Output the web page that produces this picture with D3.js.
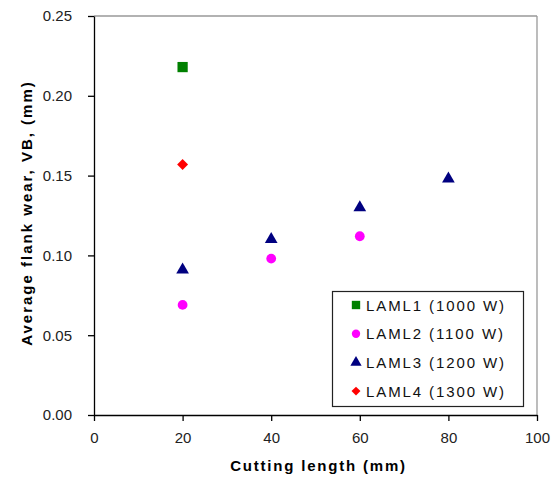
<!DOCTYPE html>
<html><head><meta charset="utf-8">
<script src="https://cdn.jsdelivr.net/npm/d3@7"></script>
<style>body{margin:0;background:#fff}svg{display:block}text{font-family:"Liberation Sans",Arial,sans-serif}</style>
</head><body>
<script>
const seriesNames = ["LAML1 (1000 W)", "LAML2 (1100 W)", "LAML3 (1200 W)", "LAML4 (1300 W)"];
const seriesColors = ["#008000", "#ff00ff", "#000080", "#ff0000"];
const seriesSymbols = ["square", "circle", "triangle", "diamond"];
const laml1 = [[20, 0.218]];
const laml2 = [[20, 0.069], [40, 0.098], [60, 0.112]];
const laml3 = [[20, 0.091], [40, 0.110], [60, 0.130], [80, 0.148]];
const laml4 = [[20, 0.157]];
const xTicks = [0, 20, 40, 60, 80, 100];
const yTicks = [0, 0.05, 0.10, 0.15, 0.20, 0.25];
const seriesData = [laml1, laml2, laml3, laml4];

const W = 557, H = 481;
const m = {l: 94, r: 20, t: 16, b: 66};
const svg = d3.select("body").append("svg").attr("width", W).attr("height", H);
const x = d3.scaleLinear().domain([0, 100]).range([m.l, W - m.r]);
const y = d3.scaleLinear().domain([0, 0.25]).range([H - m.b, m.t]);

svg.append("line").attr("x1", x(0)).attr("x2", x(100)).attr("y1", y(0.25)).attr("y2", y(0.25)).attr("stroke", "#999").attr("stroke-width", 1.3);
svg.append("line").attr("x1", x(100)).attr("x2", x(100)).attr("y1", y(0.25)).attr("y2", y(0)).attr("stroke", "#999").attr("stroke-width", 1.3);

const xAxis = svg.append("g").attr("transform", `translate(0,${y(0)})`)
  .call(d3.axisBottom(x).tickValues(xTicks).tickSize(6).tickSizeOuter(0).tickPadding(11).tickFormat(d3.format("d")));
const yAxis = svg.append("g").attr("transform", `translate(${x(0)},0)`)
  .call(d3.axisLeft(y).tickValues(yTicks).tickSize(6).tickSizeOuter(0).tickPadding(16).tickFormat(d3.format(".2f")));
[xAxis, yAxis].forEach(g => {
  g.select(".domain").attr("stroke", "#000").attr("stroke-width", 1.3);
  g.selectAll(".tick line").attr("stroke", "#000").attr("stroke-width", 1.3);
  g.selectAll(".tick text").attr("fill", "#222").style("font-size", "15px").style("font-family", '"Liberation Sans",Arial,sans-serif');
});

const symMap = {square: d3.symbolSquare, circle: d3.symbolCircle, triangle: d3.symbolTriangle, diamond: d3.symbolSquare};
const symRot = {square: 0, circle: 0, triangle: 0, diamond: 45};
const symSize = {square: 105, circle: 75, triangle: 70, diamond: 60};
const legSize = {square: 70, circle: 55, triangle: 55, diamond: 40};

seriesData.forEach((data, i) => {
  const s = seriesSymbols[i];
  svg.append("g").selectAll("path").data(data).join("path")
    .attr("transform", d => `translate(${x(d[0])},${y(d[1])}) rotate(${symRot[s]})`)
    .attr("d", d3.symbol().type(symMap[s]).size(symSize[s]))
    .attr("fill", seriesColors[i]);
});

const lg = svg.append("g");
lg.append("rect").attr("x", 332.5).attr("y", 291.5).attr("width", 191).attr("height", 115)
  .attr("fill", "#fff").attr("stroke", "#222").attr("stroke-width", 1.2);
seriesNames.forEach((n, i) => {
  const cy = 305 + i * 28.7;
  const s = seriesSymbols[i];
  lg.append("path").attr("transform", `translate(356,${cy}) rotate(${symRot[s]})`)
    .attr("d", d3.symbol().type(symMap[s]).size(legSize[s])).attr("fill", seriesColors[i]);
  lg.append("text").attr("x", 366).attr("y", cy + 5.5).text(n)
    .style("font-size", "15px").style("letter-spacing", "1.9px").attr("fill", "#111");
});

svg.append("text").attr("x", (x(0) + x(100)) / 2 + 3).attr("y", 471).attr("text-anchor", "middle")
  .text("Cutting length (mm)").style("font-size", "15px").style("font-weight", "bold").style("letter-spacing", "1.8px");
svg.append("text").attr("transform", `translate(32,${213}) rotate(-90)`).attr("text-anchor", "middle")
  .text("Average flank wear, VB, (mm)").style("font-size", "15px").style("font-weight", "bold").style("letter-spacing", "2px");
</script>
</body></html>
